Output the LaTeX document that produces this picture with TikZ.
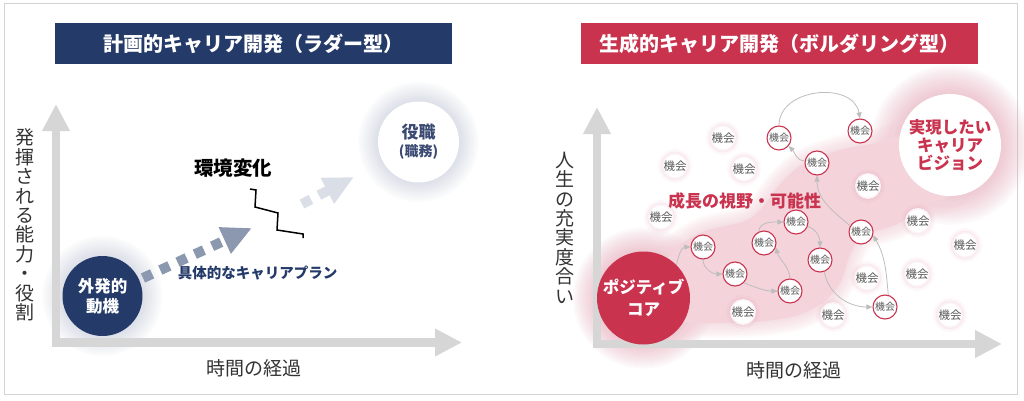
\documentclass[tikz,border=0pt]{standalone}
\usepackage{fontspec}
\setmainfont{Noto Sans CJK JP}
\usepackage{tikz}
\usetikzlibrary{arrows.meta, calc, positioning}
\usepackage{xcolor}
\definecolor{Navy}{HTML}{243A69}
\definecolor{Crimson}{HTML}{C9334E}
\definecolor{AxisGray}{HTML}{D6D6D6}
\definecolor{FrameGray}{HTML}{D3D3D3}
\definecolor{PlanBlue}{HTML}{8C98AF}
\definecolor{PlanLite}{HTML}{D9DEE7}
\definecolor{BlobPink}{HTML}{F4D3DB}
\definecolor{GlowPink}{HTML}{E49AAD}
\definecolor{GlowBlue}{HTML}{AEB7CC}
\definecolor{RoleText}{HTML}{3B4A72}
\definecolor{ChanceGray}{HTML}{5A5A5A}
\definecolor{ChainGray}{HTML}{BDBDBD}
\definecolor{LabelBlack}{HTML}{333333}
\tikzset{%
  title_bar/.style={%
    rectangle,%
    minimum width=397pt,%
    minimum height=41pt,%
    inner sep=0pt,%
    text=white,%
    font={\fontsize{20}{20}\selectfont\bfseries},%
  },
  axis_arrow/.style={%
    draw=AxisGray,%
    line width=8.5pt,%
    -{Triangle[length=27pt, width=26pt]},%
  },
  axis_label/.style={%
    text=LabelBlack,%
    font={\fontsize{19}{19.4}\selectfont},%
    align=center,%
    inner sep=0pt,%
  },
  plan_arrow/.style={%
    line width=10pt,%
    dash pattern=on 10pt off 9pt,%
    -{Triangle[length=30pt, width=27pt]},%
  },
  zigzag_line/.style={%
    draw=black,%
    line width=1.5pt,%
    line join=miter,%
  },
  big_circle/.style={%
    circle,%
    inner sep=0pt,%
    align=center,%
    font={\fontsize{16.5}{20}\selectfont\bfseries},%
  },
  chance/.style={%
    circle,%
    fill=white,%
    minimum size=26pt,%
    inner sep=0pt,%
    text=ChanceGray,%
    font={\fontsize{11.5}{12}\selectfont},%
    preaction={draw=GlowPink, draw opacity=0.07, line width=8pt},%
    draw=GlowPink,%
    draw opacity=0.12,%
    line width=3pt,%
  },
  chance_ring/.style={%
    circle,%
    fill=white,%
    minimum size=24pt,%
    inner sep=0pt,%
    draw=Crimson,%
    line width=1.1pt,%
    text=ChanceGray,%
    font={\fontsize{10}{11}\selectfont},%
  },
  chain_path/.style={%
    draw=ChainGray,%
    line width=0.8pt,%
    -{Triangle[length=6pt, width=5pt]},%
  },
  annotate/.style={%
    inner sep=0pt,%
    align=center,%
  },
}
\newcommand{\blobpath}{%
  plot [smooth cycle, tension=0.55] coordinates {%
    (640,-275) (663,-262) (680,-245) (705,-231) (745,-221) (762,-208)
    (782,-182) (805,-163) (840,-150) (880,-142) (920,-130) (960,-125)
    (985,-150) (955,-192) (925,-207) (895,-225) (862,-236) (850,-255)
    (840,-283) (822,-303) (795,-316) (755,-322) (705,-323) (660,-320)
    (630,-305)}%
}

\begin{document}
\begin{tikzpicture}[x=1pt, y=1pt]

    \useasboundingbox (0,0) rectangle (1024,-401);
    \fill [white] (0,0) rectangle (1024,-401);
    \draw [FrameGray, line width=1pt] (4,-4) rectangle (1017,-394);

    % centres of the big circles
    \coordinate (motive_c) at (102.5,-296);
    \coordinate (role_c) at (418.5,-142);
    \coordinate (core_c) at (643.5,-298);
    \coordinate (vision_c) at (950,-145);

    % ---- ladder side ----
    \node [title_bar, fill=Navy] (title_ladder) at (253.5,-43.5) {%
      計画的キャリア開発（ラダー型）%
    };

    \foreach \g in {1,...,10} {
      \fill [GlowBlue, opacity=0.045] (motive_c) circle (40+2*\g);
      \fill [GlowBlue, opacity=0.045] (role_c) circle (40+2*\g);
    }

    \coordinate (y_axis_l0) at (56,-347);
    \coordinate (y_axis_l1) at (56,-104);
    \coordinate (x_axis_l0) at (52,-342.5);
    \coordinate (x_axis_l1) at (462,-342.5);
    \draw [axis_arrow] (y_axis_l0) -- (y_axis_l1);
    \draw [axis_arrow] (x_axis_l0) -- (x_axis_l1);

    \node [axis_label] (ylabel_ladder) at (25,-225) {%
      発\\揮\\さ\\れ\\る\\能\\力\\・\\役\\割%
    };
    \node [axis_label] (xlabel_ladder) at (254,-368) {時間の経過};

    \coordinate (plan_a0) at (143,-278);
    \coordinate (plan_a1) at (252,-228);
    \coordinate (plan_b0) at (302,-204);
    \coordinate (plan_b1) at (354,-177);
    \draw [plan_arrow, PlanBlue] (plan_a0) -- (plan_a1);
    \draw [plan_arrow, PlanLite] (plan_b0) -- (plan_b1);

    \draw [zigzag_line]
      (250,-189) -- (256,-190) -- (255,-207) -- (278,-213)
      -- (277,-230) -- (303,-234) -- (303,-238);

    \node [annotate, font={\fontsize{19.5}{19.5}\selectfont\bfseries}]
      (env_change) at (233,-168) {環境変化};
    \node [annotate, text=Navy, font={\fontsize{14.5}{15}\selectfont\bfseries}]
      (plan_label) at (257.5,-273) {具体的なキャリアプラン};

    \node [big_circle, fill=Navy, text=white, minimum size=80pt]
      (motive) at (motive_c) {外発的\\動機};
    \node [big_circle, fill=white, text=RoleText, minimum size=81pt,
      font={\fontsize{17}{18}\selectfont\bfseries}]
      (role) at (role_c) {%
        役職\\{\fontsize{14}{18}\selectfont (職務)}%
      };

    % ---- bouldering side ----
    \node [title_bar, fill=Crimson] (title_boulder) at (779,-43.5) {%
      生成的キャリア開発（ボルダリング型）%
    };

    \foreach \g in {1,...,12} {
      \fill [GlowPink, opacity=0.05] (core_c) circle (46.5+2*\g);
      \fill [GlowPink, opacity=0.05] (vision_c) circle (51+2.4*\g);
    }
    \foreach \w in {3,6,...,30} {
      \draw [BlobPink, line width=\w pt, opacity=0.09, line join=round] \blobpath;
    }
    \fill [BlobPink] \blobpath;

    \coordinate (y_axis_r0) at (597,-348);
    \coordinate (y_axis_r1) at (597,-107);
    \coordinate (x_axis_r0) at (593,-344);
    \coordinate (x_axis_r1) at (1002,-344);
    \draw [axis_arrow] (y_axis_r0) -- (y_axis_r1);
    \draw [axis_arrow] (x_axis_r0) -- (x_axis_r1);

    \node [axis_label] (ylabel_boulder) at (565,-227.5) {%
      人\\生\\の\\充\\実\\度\\合\\い%
    };
    \node [axis_label] (xlabel_boulder) at (794,-370) {時間の経過};

    \node [annotate, text=Crimson, font={\fontsize{17}{17}\selectfont\bfseries}]
      (growth) at (744.5,-201) {成長の視野・可能性};

    \foreach \x/\y [count=\i] in {723/138, 675/166, 744/169, 868/186,
      661/217, 918/221, 965/245, 867/278, 917/274, 743/312, 833/315,
      950/315} {
      \node [chance] (plain\i) at (\x,-\y) {機会};
    }

    \node [chance_ring] (op1) at (703,-247) {機会};
    \node [chance_ring] (op2) at (735,-274) {機会};
    \node [chance_ring] (op3) at (790,-291) {機会};
    \node [chance_ring] (op4) at (764,-243) {機会};
    \node [chance_ring] (op5) at (796,-222) {機会};
    \node [chance_ring] (op6) at (820,-260) {機会};
    \node [chance_ring] (op7) at (885,-307) {機会};
    \node [chance_ring] (op8) at (861,-232) {機会};
    \node [chance_ring] (op9) at (817,-163) {機会};
    \node [chance_ring] (op10) at (779,-138) {機会};
    \node [chance_ring] (op11) at (860,-131) {機会};

    \node [big_circle, fill=Crimson, text=white, minimum size=93pt,
      font={\fontsize{16.5}{22}\selectfont\bfseries}]
      (core) at (core_c) {ポジティブ\\コア};
    \node [big_circle, fill=white, text=Crimson, minimum size=102pt,
      font={\fontsize{16.5}{18}\selectfont\bfseries}]
      (vision) at (vision_c) {実現したい\\キャリア\\ビジョン};

    \draw [chain_path]
      (core.45) to [out=80, in=180] (op1.west);
    \draw [chain_path]
      (op1.south) to [out=-90, in=180] (op2.west);
    \draw [chain_path]
      (op2.-45) to [out=-20, in=180] (op3.west);
    \draw [chain_path]
      (op3.north) to [out=95, in=-75] (op4.-20);
    \draw [chain_path]
      (op4.115) to [out=85, in=180] (op5.west);
    \draw [chain_path]
      (op5.-20) to [out=-20, in=90] (op6.north);
    \draw [chain_path]
      (op6.-70) to [out=-80, in=180] (op7.west);
    \draw [chain_path]
      (op7.75) to [out=95, in=-60] (op8.-15);
    \draw [chain_path]
      (op8.150) to [out=140, in=-90] (op9.south);
    \draw [chain_path]
      (op9.170) to [out=180, in=-45] (op10.-40);
    \draw [chain_path]
      (op10.north) to [out=90, in=100, looseness=1.2] (op11.north);
  \end{tikzpicture}
\end{document}
